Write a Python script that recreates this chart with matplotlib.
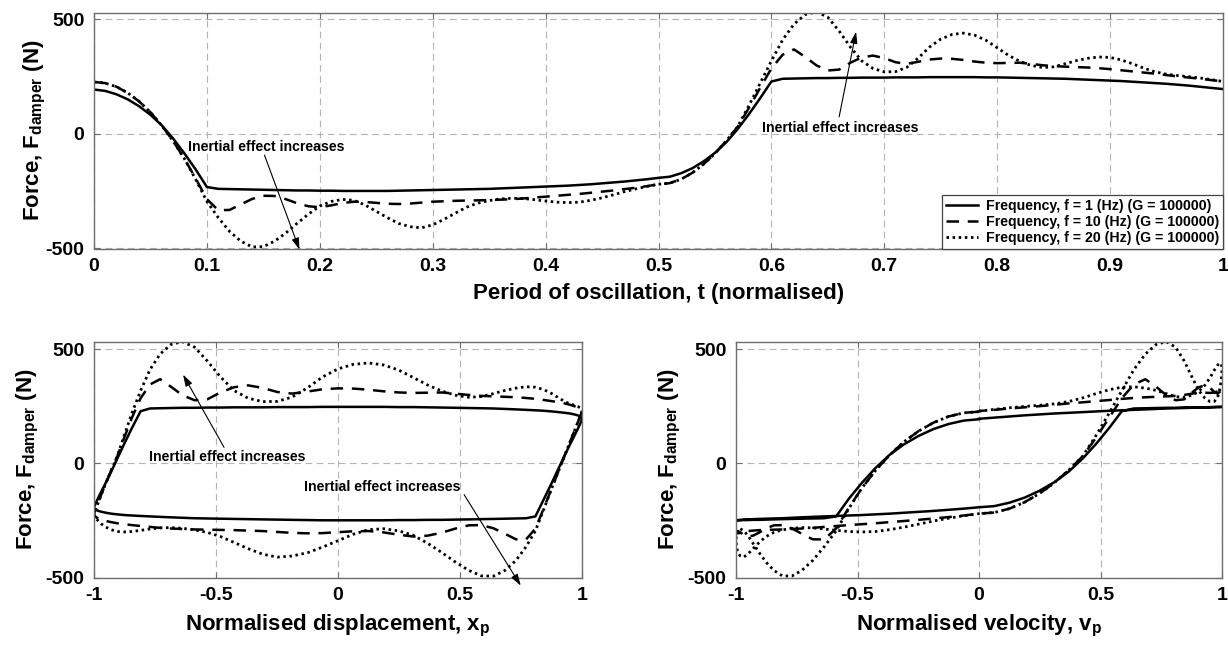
import numpy as np
import matplotlib
matplotlib.use("Agg")
import matplotlib.pyplot as plt

# ---------------- data ----------------
t = np.round(np.arange(0, 101) * 0.01, 2)   # normalised period of oscillation

force_f1 = [193, 187, 172, 150, 120, 83, 37, -20, -85, -155,
            -232, -240, -241, -242, -243, -244, -245, -246, -247, -247,
            -248, -248, -249, -249, -249, -249, -249, -248, -247, -246,
            -245, -244, -243, -242, -241, -240, -238, -236, -234, -232,
            -230, -228, -226, -223, -220, -216, -212, -208, -203, -198,
            -192, -187, -172, -150, -120, -83, -37, 20, 85, 155,
            228, 240, 241, 242, 243, 243, 244, 244, 245, 245,
            245, 246, 246, 246, 247, 247, 247, 247, 247, 246,
            246, 245, 244, 243, 242, 241, 240, 238, 236, 234,
            232, 230, 227, 224, 221, 218, 214, 210, 205, 200,
            195]

force_f10 = [226, 221, 205, 178, 141, 94, 36, -31, -108, -194,
             -285, -333, -332, -308, -284, -270, -271, -285, -303, -316,
             -320, -312, -302, -296, -297, -301, -305, -306, -304, -300,
             -296, -294, -292, -291, -290, -289, -287, -285, -282, -278,
             -274, -270, -266, -262, -257, -252, -247, -241, -235, -228,
             -220, -215, -198, -170, -132, -86, -31, 30, 112, 200,
             285, 345, 368, 335, 298, 276, 280, 310, 333, 341,
             330, 312, 305, 314, 324, 328, 327, 322, 315, 310,
             308, 309, 310, 305, 299, 295, 293, 291, 289, 286,
             282, 277, 272, 267, 262, 256, 250, 245, 240, 234,
             229]

force_f20 = [226, 221, 205, 178, 141, 94, 36, -31, -108, -198,
             -295, -365, -425, -468, -493, -492, -468, -432, -390, -350,
             -315, -295, -286, -290, -310, -338, -366, -391, -405, -410,
             -397, -373, -346, -320, -302, -291, -284, -281, -282, -287,
             -293, -298, -300, -298, -290, -279, -266, -252, -240, -229,
             -220, -215, -198, -170, -132, -86, -31, 30, 122, 220,
             318, 410, 478, 520, 532, 508, 448, 378, 318, 285,
             270, 271, 290, 330, 378, 413, 433, 439, 430, 408,
             375, 342, 316, 298, 289, 292, 305, 319, 329, 335,
             333, 322, 305, 286, 270, 260, 254, 249, 243, 236,
             228]

series_labels = ["Frequency, f = 1 (Hz) (G = 100000)",
                 "Frequency, f = 10 (Hz) (G = 100000)",
                 "Frequency, f = 20 (Hz) (G = 100000)"]

# normalised displacement / velocity of the sinusoidal excitation
x_p = np.cos(2 * np.pi * t)
v_p = -np.sin(2 * np.pi * t)

top_xticks = [0, 0.1, 0.2, 0.3, 0.4, 0.5, 0.6, 0.7, 0.8, 0.9, 1]
top_xticklabels = ["0", "0.1", "0.2", "0.3", "0.4", "0.5", "0.6", "0.7", "0.8", "0.9", "1"]
bot_xticks = [-1, -0.5, 0, 0.5, 1]
bot_xticklabels = ["-1", "-0.5", "0", "0.5", "1"]
yticks = [-500, 0, 500]
yticklabels = ["-500", "0", "500"]
annot_text = "Inertial effect increases"

# ---------------- style ----------------
plt.rcParams["font.family"] = ["Liberation Sans", "DejaVu Sans"]
plt.rcParams["font.weight"] = "bold"
plt.rcParams["mathtext.fontset"] = "custom"
plt.rcParams["mathtext.rm"] = "Liberation Sans:bold"
plt.rcParams["mathtext.it"] = "Liberation Sans:bold"
plt.rcParams["mathtext.bf"] = "Liberation Sans:bold"
plt.rcParams["axes.unicode_minus"] = False

W, H = 1228, 648
fig = plt.figure(figsize=(W / 100, H / 100), dpi=100)

def px_axes(l, t_, r, b):
    return fig.add_axes([l / W, (H - b) / H, (r - l) / W, (b - t_) / H])

ax_top = px_axes(94, 12.7, 1223, 248.5)
ax_bl = px_axes(94, 341.7, 582, 577.7)
ax_br = px_axes(736, 341.7, 1222, 577.7)

LW = 1.8
styles = [dict(color="black", lw=LW, linestyle="-"),
          dict(color="black", lw=LW, linestyle=(0, (5, 3.5))),
          dict(color="black", lw=2.0, linestyle=(0, (0.9, 1.3)))]
forces = [force_f1, force_f10, force_f20]

FRAME = "#6e6e6e"
TICKFS = 14
LABELFS = 16

def style_axes(ax, xlim, ylim, xt, xtl):
    ax.set_xlim(*xlim)
    ax.set_ylim(*ylim)
    ax.set_xticks(xt)
    ax.set_xticklabels(xtl)
    ax.set_yticks(yticks)
    ax.set_yticklabels(yticklabels)
    ax.grid(True, color="#b4b4b4", lw=0.8, linestyle=(0, (6, 4)))
    ax.set_axisbelow(True)
    for s in ax.spines.values():
        s.set_color(FRAME)
        s.set_linewidth(1.0)
    ax.tick_params(direction="in", length=4, width=0.8, color=FRAME,
                   top=True, right=True, labelsize=TICKFS, pad=7)
    for lab in ax.get_xticklabels() + ax.get_yticklabels():
        lab.set_fontweight("bold")

# top panel
for f, st, lab in zip(forces, styles, series_labels):
    ax_top.plot(t, f, label=lab, **st)
style_axes(ax_top, (0, 1), (-500, 528), top_xticks, top_xticklabels)
ax_top.set_xlabel("Period of oscillation, t (normalised)", fontsize=LABELFS, fontweight="bold")
ax_top.set_ylabel(r"Force, F$_{\mathrm{damper}}$ (N)", fontsize=LABELFS, fontweight="bold")
ax_top.xaxis.set_label_coords(0.5, -0.145)
ax_top.yaxis.set_label_coords(-46 / 1129, 0.5)
leg = ax_top.legend(loc="lower right", bbox_to_anchor=(1, 0), borderaxespad=0,
                    fontsize=10.2, handlelength=2.3, handletextpad=0.55,
                    labelspacing=0.15, borderpad=0.25, fancybox=False,
                    framealpha=1, edgecolor="#444444")
leg.get_frame().set_linewidth(0.9)
for txt in leg.get_texts():
    txt.set_fontweight("bold")

arrow_kw = dict(arrowstyle="-|>,head_length=0.7,head_width=0.22", color="black",
                lw=0.8, shrinkA=0, shrinkB=0)
ax_top.text(0.083, -58, annot_text, fontsize=10.2, fontweight="bold", va="center", ha="left")
ax_top.annotate("", xy=(0.182, -505), xytext=(0.151, -93), arrowprops=arrow_kw,
                annotation_clip=False)
ax_top.text(0.592, 26, annot_text, fontsize=10.2, fontweight="bold", va="center", ha="left")
ax_top.annotate("", xy=(0.675, 445), xytext=(0.660, 74), arrowprops=arrow_kw,
                annotation_clip=False)

# bottom-left: force vs displacement
for f, st in zip(forces, styles):
    ax_bl.plot(x_p, f, **st)
style_axes(ax_bl, (-1, 1), (-500, 532), bot_xticks, bot_xticklabels)
ax_bl.set_xlabel(r"Normalised displacement, x$_{\mathrm{p}}$", fontsize=LABELFS, fontweight="bold")
ax_bl.set_ylabel(r"Force, F$_{\mathrm{damper}}$ (N)", fontsize=LABELFS, fontweight="bold")
ax_bl.xaxis.set_label_coords(0.5, -0.15)
ax_bl.yaxis.set_label_coords(-53 / 488, 0.5)
ax_bl.text(-0.776, 26, annot_text, fontsize=10.2, fontweight="bold", va="center", ha="left")
ax_bl.annotate("", xy=(-0.635, 388), xytext=(-0.467, 70), arrowprops=arrow_kw,
               annotation_clip=False)
ax_bl.text(-0.139, -105, annot_text, fontsize=10.2, fontweight="bold", va="center", ha="left")
ax_bl.annotate("", xy=(0.749, -535), xytext=(0.517, -137), arrowprops=arrow_kw,
               annotation_clip=False)

# bottom-right: force vs velocity
for f, st in zip(forces, styles):
    ax_br.plot(v_p, f, **st)
style_axes(ax_br, (-1, 1), (-500, 532), bot_xticks, bot_xticklabels)
ax_br.set_xlabel(r"Normalised velocity, v$_{\mathrm{p}}$", fontsize=LABELFS, fontweight="bold")
ax_br.set_ylabel(r"Force, F$_{\mathrm{damper}}$ (N)", fontsize=LABELFS, fontweight="bold")
ax_br.xaxis.set_label_coords(0.5, -0.15)
ax_br.yaxis.set_label_coords(-53 / 486, 0.5)

fig.savefig("out.png", dpi=100)
